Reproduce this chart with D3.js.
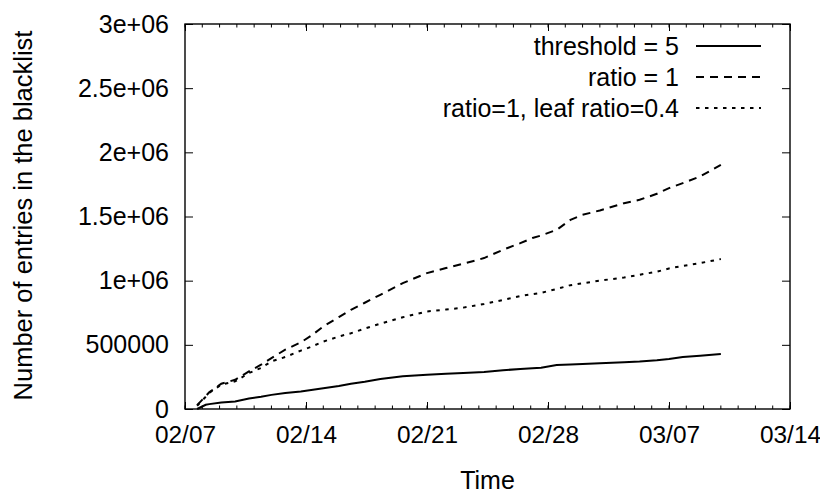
<!DOCTYPE html>
<html>
<head>
<meta charset="utf-8">
<script src="https://cdn.jsdelivr.net/npm/d3@7"></script>
<style>
  html, body { margin: 0; padding: 0; background: #fff; }
  svg text { font-family: "Liberation Sans", Arial, Helvetica, sans-serif; fill: #000; }
</style>
</head>
<body>
<svg id="chart" width="820" height="493"></svg>
<script>
// ---- data (days after 02/07, values) ----
const dayOffsets = [0.7, 1.2, 1.4, 2.1, 2.9, 3.7, 4.4, 5.0, 5.8, 6.7, 7.3, 8.0, 8.9, 9.6, 10.4, 11.3, 12.6, 14.0, 15.1, 16.1, 17.3, 18.4, 19.4, 20.1, 20.6, 21.5, 22.3, 23.0, 24.0, 25.4, 26.3, 27.3, 28.0, 28.8, 29.8, 31.0];
const threshold5 = [0, 33000, 38000, 51000, 59000, 82000, 95000, 110000, 125000, 137000, 148000, 162000, 180000, 197000, 212000, 234000, 255000, 267000, 275000, 280000, 288000, 302000, 312000, 318000, 322000, 342000, 346000, 350000, 356000, 365000, 370000, 380000, 390000, 405000, 415000, 428000];
const ratio1 = [30000, 100000, 130000, 197000, 228000, 293000, 345000, 397000, 462000, 519000, 571000, 643000, 716000, 773000, 828000, 890000, 981000, 1059000, 1098000, 1132000, 1176000, 1241000, 1293000, 1332000, 1352000, 1396000, 1474000, 1513000, 1547000, 1604000, 1630000, 1677000, 1721000, 1760000, 1812000, 1903000];
const ratio1Leaf04 = [25000, 95000, 125000, 190000, 215000, 280000, 320000, 371000, 405000, 455000, 485000, 525000, 565000, 590000, 627000, 665000, 715000, 760000, 775000, 790000, 818000, 850000, 880000, 895000, 905000, 935000, 965000, 980000, 1000000, 1025000, 1046000, 1070000, 1095000, 1115000, 1137000, 1168000];
const seriesNames = ["threshold = 5", "ratio = 1", "ratio=1, leaf ratio=0.4"];
const yTickValues = [0, 500000, 1000000, 1500000, 2000000, 2500000, 3000000];
const xTickLabels = ["02/07", "02/14", "02/21", "02/28", "03/07", "03/14"];

// ---- layout ----
const W = 820, H = 493;
const L = 185, R = 790, T = 24, B = 409;
const svg = d3.select("#chart");
const base = Date.UTC(2011, 1, 7);
const toDate = d => new Date(base + d * 864e5);

const x = d3.scaleUtc().domain([toDate(0), toDate(35)]).range([L, R]);
const y = d3.scaleLinear().domain([0, 3000000]).range([B, T]);

const fmtY = v => v === 0 ? "0" : (v >= 1000000 ? (v / 1e6) + "e+06" : String(v));
const majorDates = xTickLabels.map((s, i) => toDate(i * 7));
const minorDates = d3.range(0, 36).map(toDate);

// minor ticks bottom/top
const g = svg.append("g");
g.selectAll("line.minb").data(minorDates).join("line")
  .attr("x1", d => x(d)).attr("x2", d => x(d))
  .attr("y1", B).attr("y2", B - 3.5).attr("stroke", "#000").attr("stroke-width", 1);
g.selectAll("line.mint").data(minorDates).join("line")
  .attr("x1", d => x(d)).attr("x2", d => x(d))
  .attr("y1", T).attr("y2", T + 3.5).attr("stroke", "#000").attr("stroke-width", 1);

// major x ticks via axis (inward)
const xAxisB = d3.axisBottom(x).tickValues(majorDates).tickSizeInner(-7).tickSizeOuter(0)
  .tickPadding(17).tickFormat((d, i) => xTickLabels[i]);
const gxb = svg.append("g").attr("transform", `translate(0,${B})`).call(xAxisB);
gxb.select(".domain").remove();
gxb.selectAll("text").attr("font-size", 24.4).style("font-family", "'Liberation Sans', Arial, sans-serif");
gxb.selectAll("line").attr("stroke", "#000");

const xAxisT = d3.axisTop(x).tickValues(majorDates).tickSizeInner(-7).tickSizeOuter(0).tickFormat("");
const gxt = svg.append("g").attr("transform", `translate(0,${T})`).call(xAxisT);
gxt.select(".domain").remove();

// y axes
const yAxisL = d3.axisLeft(y).tickValues(yTickValues).tickSizeInner(-8).tickSizeOuter(0)
  .tickPadding(16).tickFormat(fmtY);
const gyl = svg.append("g").attr("transform", `translate(${L},0)`).call(yAxisL);
gyl.select(".domain").remove();
gyl.selectAll("text").attr("font-size", 25).style("font-family", "'Liberation Sans', Arial, sans-serif");

const yAxisR = d3.axisRight(y).tickValues(yTickValues).tickSizeInner(-8).tickSizeOuter(0).tickFormat("");
const gyr = svg.append("g").attr("transform", `translate(${R},0)`).call(yAxisR);
gyr.select(".domain").remove();

// border
svg.append("rect").attr("x", L).attr("y", T).attr("width", R - L).attr("height", B - T)
  .attr("fill", "none").attr("stroke", "#000").attr("stroke-width", 1.4);

// axis titles
svg.append("text").attr("x", (L + R) / 2).attr("y", 489).attr("text-anchor", "middle")
  .attr("font-size", 25).text("Time");
svg.append("text").attr("transform", `translate(32,${(T + B) / 2 - 1}) rotate(-90)`)
  .attr("text-anchor", "middle").attr("font-size", 25.5).text("Number of entries in the blacklist");

// series
const seriesData = [threshold5, ratio1, ratio1Leaf04];
const dashes = [null, "8,6", "3.5,5.5"];
const line = d3.line().x((d, i) => x(toDate(dayOffsets[i]))).y(d => y(d));
seriesData.forEach((vals, k) => {
  svg.append("path").datum(vals).attr("d", line)
    .attr("fill", "none").attr("stroke", "#000").attr("stroke-width", 2)
    .attr("stroke-dasharray", dashes[k]);
});

// legend
const legY = [46, 77, 108];
seriesNames.forEach((name, k) => {
  svg.append("text").attr("x", 679).attr("y", legY[k]).attr("dy", "0.35em")
    .attr("text-anchor", "end").attr("font-size", 25).text(name);
  svg.append("line").attr("x1", 696).attr("x2", 761).attr("y1", legY[k]).attr("y2", legY[k])
    .attr("stroke", "#000").attr("stroke-width", 2).attr("stroke-dasharray", dashes[k]);
});
</script>
</body>
</html>
